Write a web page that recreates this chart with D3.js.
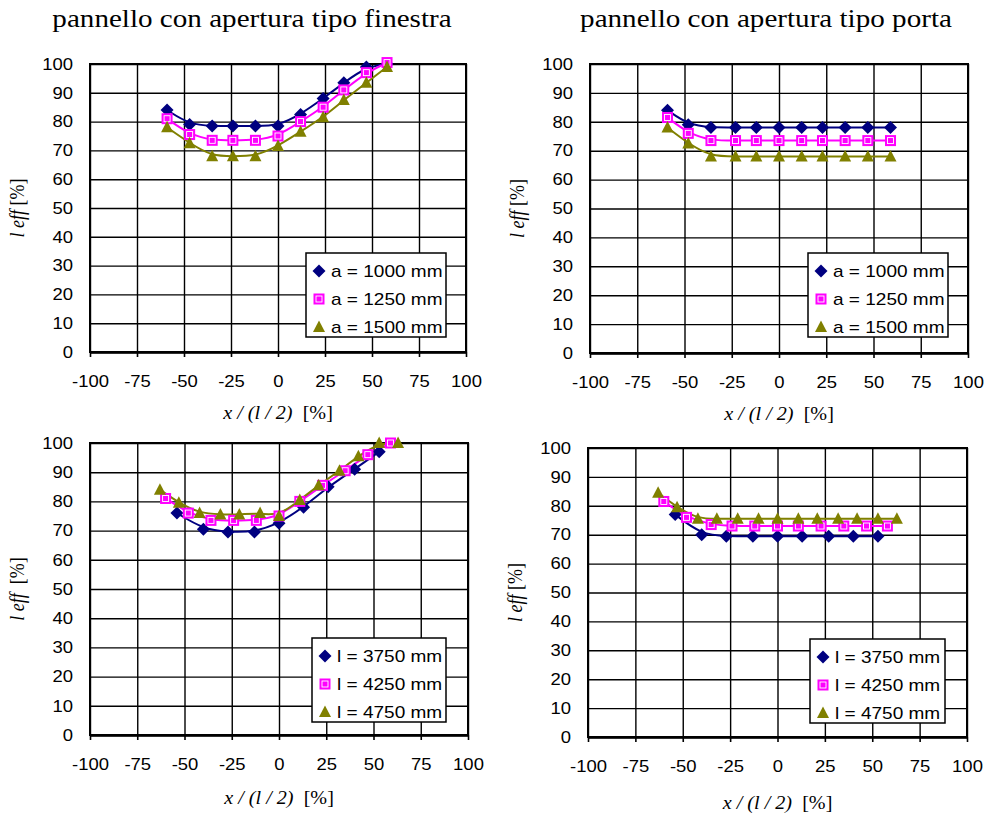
<!DOCTYPE html>
<html>
<head>
<meta charset="utf-8">
<script src="https://cdn.jsdelivr.net/npm/d3@7"></script>
<style>
  body { margin: 0; background: #fff; }
  svg { display: block; }
</style>
</head>
<body>
<svg id="chart" width="986" height="814"></svg>
<script>
// --- data ---
const xTicks = [-100, -75, -50, -25, 0, 25, 50, 75, 100];
const yTicks = [0, 10, 20, 30, 40, 50, 60, 70, 80, 90, 100];

// top-left: pannello con apertura tipo finestra (a = ...)
const xFinA = [-59, -47, -35, -24, -12, 0, 12, 24, 35, 47, 58];
const finA1000 = [84, 79, 78.5, 78.5, 78.5, 78.5, 82.5, 88, 93.5, 99, 100];
const finA1250 = [81, 75.5, 73.5, 73.5, 73.5, 75, 80, 85, 91, 97, 100.5];
const finA1500 = [78, 72.5, 68, 68, 68, 71.5, 76.5, 81.5, 87.5, 93.5, 99];

// top-right: pannello con apertura tipo porta (a = ...)
const xPorA = [-59, -48, -36, -23, -12, 0, 12, 23, 35, 47, 59];
const porA1000 = [84, 79, 78, 78, 78, 78, 78, 78, 78, 78, 78];
const porA1250 = [81.5, 76, 73.5, 73.5, 73.5, 73.5, 73.5, 73.5, 73.5, 73.5, 73.5];
const porA1500 = [78, 72.5, 68, 68, 68, 68, 68, 68, 68, 68, 68];

// bottom-left: finestra (l = ...)
const xL3750 = [-54, -40, -27, -13, 0, 13, 26, 40, 53];
const finL3750 = [76, 70.5, 69.5, 69.5, 72.5, 78, 85, 91, 97];
const xL4250 = [-60, -48, -36, -24, -12, 0, 11, 23, 35, 47, 59];
const finL4250 = [81, 76, 73.5, 73.5, 73.5, 75, 80, 85.5, 90.5, 96, 100];
const xL4750 = [-63, -53, -42, -31, -21, -10, 0, 11, 21, 32, 42, 53, 63];
const finL4750 = [84, 79.5, 76, 75.5, 75.5, 76, 75, 80.5, 85.5, 90.5, 95.5, 100, 100];

// bottom-right: porta (l = ...)
const xPorL3750 = [-54, -40, -27, -13, 0, 13, 27, 40, 53];
const porL3750 = [77, 70, 69.5, 69.5, 69.5, 69.5, 69.5, 69.5, 69.5];
const xPorL4250 = [-60, -48, -35, -24, -12, 0, 11, 23, 35, 47, 58];
const porL4250 = [81.5, 76, 73.5, 73, 73, 73, 73, 73, 73, 73, 73];
const xPorL4750 = [-63, -53, -42, -32, -21, -10, 0, 11, 21, 32, 42, 53, 63];
const porL4750 = [84.5, 79.5, 75.5, 75.5, 75.5, 75.5, 75.5, 75.5, 75.5, 75.5, 75.5, 75.5, 75.5];

const legendA = ["a = 1000 mm", "a = 1250 mm", "a = 1500 mm"];
const legendL = ["l = 3750 mm", "l = 4250 mm", "l = 4750 mm"];

const colors = ["#000080", "#ff00ff", "#808000"];
const shapes = ["diamond", "square", "triangle"];

// the picture is a bit stretched sideways, text too
const SX = 1.12;
const SANS = "'Liberation Sans', Arial, sans-serif";
const SERIF = "'Liberation Serif', 'Times New Roman', serif";

const svg = d3.select("#chart");

function zip(xs, ys) {
    return xs.map((x, i) => ({ x: x, y: ys[i] }));
}

function drawMarker(g, shape, color, cx, cy) {
    if (shape === "diamond") {
        g.append("path")
            .attr("d", `M${cx},${cy - 6.5}L${cx + 6.5},${cy}L${cx},${cy + 6.5}L${cx - 6.5},${cy}Z`)
            .attr("fill", color);
    } else if (shape === "square") {
        g.append("rect")
            .attr("x", cx - 5.5).attr("y", cy - 5.5)
            .attr("width", 11).attr("height", 11)
            .attr("fill", color);
        g.append("rect")
            .attr("x", cx - 3).attr("y", cy - 3)
            .attr("width", 6).attr("height", 6)
            .attr("fill", "none")
            .attr("stroke", "#fff")
            .attr("stroke-width", 0.9);
    } else {
        g.append("path")
            .attr("d", `M${cx},${cy - 6.5}L${cx + 6},${cy + 5}L${cx - 6},${cy + 5}Z`)
            .attr("fill", color);
    }
}

function drawPanel(p) {
    const x = d3.scaleLinear().domain([-100, 100]).range([p.left, p.right]);
    const y = d3.scaleLinear().domain([0, 100]).range([p.bottom, p.top]);
    const w = p.right - p.left, h = p.bottom - p.top;
    const g = svg.append("g");

    // title
    g.append("text")
        .attr("transform", `translate(${p.titleX},${p.titleY}) scale(${SX},1)`)
        .attr("text-anchor", "middle")
        .style("font-family", SERIF)
        .style("font-size", "26px")
        .text(p.title);

    // grid
    g.append("g")
        .attr("transform", `translate(0,${p.bottom})`)
        .call(d3.axisBottom(x).tickValues(xTicks).tickSize(-h).tickFormat(""))
        .call(a => a.select(".domain").remove())
        .selectAll("line").attr("stroke", "#000").attr("stroke-width", 1.4);
    g.append("g")
        .attr("transform", `translate(${p.left},0)`)
        .call(d3.axisLeft(y).tickValues(yTicks).tickSize(-w).tickFormat(""))
        .call(a => a.select(".domain").remove())
        .selectAll("line").attr("stroke", "#000").attr("stroke-width", 1.4);

    g.append("rect")
        .attr("x", p.left).attr("y", p.top)
        .attr("width", w).attr("height", h)
        .attr("fill", "none").attr("stroke", "#000").attr("stroke-width", 2);

    // x axis ticks + labels (plain hyphen for negatives, like the original)
    const xa = g.append("g")
        .attr("transform", `translate(0,${p.bottom})`)
        .call(d3.axisBottom(x).tickValues(xTicks).tickSize(5).tickSizeOuter(0)
            .tickFormat(d => String(d)));
    xa.select(".domain").attr("stroke", "#000").attr("stroke-width", 2.5);
    xa.selectAll("line").attr("stroke", "#000").attr("stroke-width", 1.6);
    xa.selectAll("text")
        .attr("y", 23)
        .attr("dy", "0.71em")
        .attr("transform", `scale(${SX},1)`)
        .style("font-family", SANS)
        .style("font-size", "16.5px")
        .attr("fill", "#000");

    // y axis labels
    const ya = g.append("g")
        .attr("transform", `translate(${p.left},0)`)
        .call(d3.axisLeft(y).tickValues(yTicks).tickSize(0).tickFormat(d => String(d)));
    ya.select(".domain").remove();
    ya.selectAll("text")
        .attr("x", -17 / SX)
        .attr("transform", `scale(${SX},1)`)
        .style("font-family", SANS)
        .style("font-size", "16.5px")
        .attr("fill", "#000");

    // axis titles
    const xt = g.append("text")
        .attr("transform", `translate(${(p.left + p.right) / 2},${p.xTitleY}) scale(${SX},1)`)
        .attr("text-anchor", "middle")
        .style("font-family", SERIF)
        .style("font-size", "18px");
    xt.append("tspan").style("font-style", "italic").text("x / (l / 2)");
    xt.append("tspan").text("\u00a0\u00a0[%]");

    const yt = g.append("text")
        .attr("transform", `translate(${p.yTitleX},${(p.top + p.bottom) / 2}) scale(${SX},1) rotate(-90)`)
        .attr("text-anchor", "middle")
        .style("font-family", SERIF)
        .style("font-size", "18px");
    yt.append("tspan").style("font-style", "italic").text("l eff");
    yt.append("tspan").text(p.yGap + "[%]");

    // series: trend curve then markers
    const line = d3.line().x(d => x(d.x)).y(d => y(d.y)).curve(d3.curveBasis);
    p.series.forEach((s, i) => {
        g.append("path")
            .datum(zip(s.xs, s.ys))
            .attr("d", line)
            .attr("fill", "none")
            .attr("stroke", colors[i])
            .attr("stroke-width", 2);
    });
    p.series.forEach((s, i) => {
        const mg = g.append("g");
        zip(s.xs, s.ys).forEach(d => drawMarker(mg, shapes[i], colors[i], x(d.x), y(d.y)));
    });

    // legend
    const lx = p.right - p.legRight - p.legW;
    const ly = p.bottom - p.legBottom - 84;
    const lg = g.append("g");
    lg.append("rect")
        .attr("x", lx).attr("y", ly)
        .attr("width", p.legW).attr("height", 84)
        .attr("fill", "#fff").attr("stroke", "#000").attr("stroke-width", 1.5);
    p.labels.forEach((lab, i) => {
        const cy = ly + 18 + i * 28;
        drawMarker(lg, shapes[i], colors[i], lx + 13, cy);
        lg.append("text")
            .attr("transform", `translate(${lx + 25},${cy + 6}) scale(${SX},1)`)
            .style("font-family", SANS)
            .style("font-size", "17px")
            .text(lab);
    });
}

const panels = [
    {
        left: 90, right: 466, top: 64, bottom: 352,
        title: "pannello con apertura tipo finestra", titleX: 252, titleY: 27,
        xTitleY: 419, yTitleX: 24, yGap: " ",
        labels: legendA, legW: 140, legRight: 20, legBottom: 15,
        series: [{ xs: xFinA, ys: finA1000 }, { xs: xFinA, ys: finA1250 }, { xs: xFinA, ys: finA1500 }]
    },
    {
        left: 590, right: 968, top: 64, bottom: 353,
        title: "pannello con apertura tipo porta", titleX: 766, titleY: 27,
        xTitleY: 420, yTitleX: 524, yGap: " ",
        labels: legendA, legW: 140, legRight: 20, legBottom: 16,
        series: [{ xs: xPorA, ys: porA1000 }, { xs: xPorA, ys: porA1250 }, { xs: xPorA, ys: porA1500 }]
    },
    {
        left: 90, right: 468, top: 443, bottom: 735,
        title: "", titleX: 0, titleY: 0,
        xTitleY: 804, yTitleX: 24, yGap: "\u00a0\u00a0",
        labels: legendL, legW: 134, legRight: 22, legBottom: 13,
        series: [{ xs: xL3750, ys: finL3750 }, { xs: xL4250, ys: finL4250 }, { xs: xL4750, ys: finL4750 }]
    },
    {
        left: 588, right: 967, top: 448, bottom: 737,
        title: "", titleX: 0, titleY: 0,
        xTitleY: 809, yTitleX: 522, yGap: " ",
        labels: legendL, legW: 135, legRight: 22, legBottom: 14,
        series: [{ xs: xPorL3750, ys: porL3750 }, { xs: xPorL4250, ys: porL4250 }, { xs: xPorL4750, ys: porL4750 }]
    }
];

panels.forEach(drawPanel);
</script>
</body>
</html>
